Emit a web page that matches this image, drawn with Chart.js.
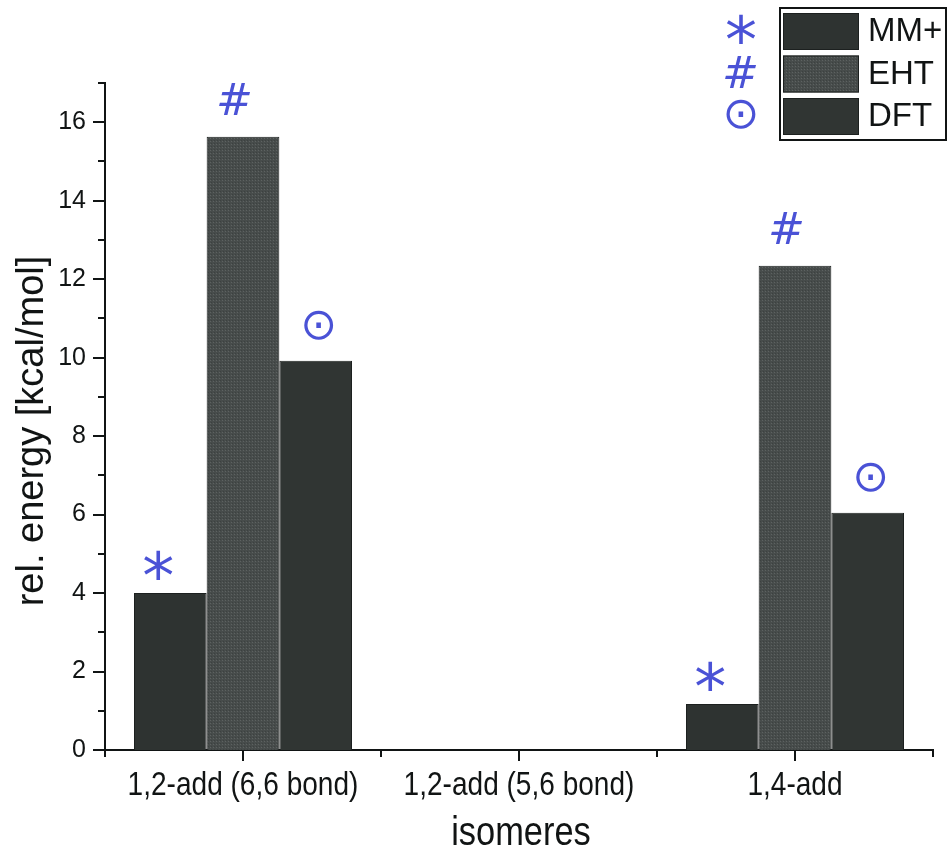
<!DOCTYPE html>
<html>
<head>
<meta charset="utf-8">
<title>rel. energy of isomeres</title>
<script src="https://cdn.jsdelivr.net/npm/chart.js@4.4.1/dist/chart.umd.min.js"></script>
<style>
  html, body { margin: 0; padding: 0; background: #ffffff; }
  #wrap { width: 951px; height: 854px; }
</style>
</head>
<body>
<div id="wrap"><canvas id="c" width="951" height="854"></canvas></div>
<script>
// Relative energies [kcal/mol] of the three addition isomeres
const categories = ['1,2-add (6,6 bond)', '1,2-add (5,6 bond)', '1,4-add'];
const seriesNames = ['MM+', 'EHT', 'DFT'];
const mmPlus = [4.0, 0, 1.17];
const eht = [15.63, 0, 12.34];
const dft = [9.92, 0, 6.05];
const yTickLabels = [0, 2, 4, 6, 8, 10, 12, 14, 16];
// pen marks written next to each method
const penMarks = ['*', '#', '⊙'];

const SANS = "'Liberation Sans', Arial, sans-serif";
const INK = '#111414';
const PEN = '#4a52d6';

// fine dotted fill for the EHT bars
function dottedFill() {
  const p = document.createElement('canvas');
  p.width = 3; p.height = 3;
  const g = p.getContext('2d');
  g.fillStyle = '#474c4b';
  g.fillRect(0, 0, 3, 3);
  g.fillStyle = '#5d6261';
  g.fillRect(0, 0, 1, 1);
  g.fillStyle = '#3c4140';
  g.fillRect(1, 2, 1, 1);
  return g.createPattern(p, 'repeat');
}

const fills = ['#2e3331', dottedFill(), '#303533'];

// condensed text, drawn with a horizontal squeeze around its centre
function squeezedText(ctx, text, cx, cy, size, squeeze) {
  ctx.save();
  ctx.translate(cx, cy);
  ctx.scale(squeeze, 1);
  ctx.font = size + 'px ' + SANS;
  ctx.textAlign = 'center';
  ctx.textBaseline = 'middle';
  ctx.fillText(text, 0, 0);
  ctx.restore();
}

// outward tick marks, category labels and axis titles
const axisDecor = {
  id: 'axisDecor',
  afterDraw(chart) {
    const { ctx, scales: { x, y } } = chart;
    ctx.save();
    ctx.strokeStyle = INK;
    ctx.lineWidth = 2;
    ctx.lineCap = 'butt';
    for (let v = y.min; v <= y.max; v++) {
      const py = Math.round(y.getPixelForValue(v));
      const len = v % 2 === 0 ? 12 : 7;
      ctx.beginPath();
      ctx.moveTo(x.left, py);
      ctx.lineTo(x.left - len, py);
      ctx.stroke();
    }
    const labels = x.getLabels();
    ctx.fillStyle = INK;
    labels.forEach((lab, i) => {
      const px = Math.round(x.getPixelForValue(i));
      ctx.beginPath();
      ctx.moveTo(px, y.bottom);
      ctx.lineTo(px, y.bottom + 11);
      ctx.stroke();
      squeezedText(ctx, lab, px, y.bottom + 36, 33, 0.85);
    });
    for (let i = 0; i <= labels.length; i++) {
      const px = Math.round(x.getPixelForValue(i - 0.5));
      ctx.beginPath();
      ctx.moveTo(px, y.bottom);
      ctx.lineTo(px, y.bottom + 7);
      ctx.stroke();
    }
    // axis titles
    squeezedText(ctx, x.options.title.text, (x.left + x.right) / 2 + 2, 834, 40, 0.86);
    ctx.save();
    ctx.translate(33, 431);
    ctx.rotate(-Math.PI / 2);
    ctx.font = '38px ' + SANS;
    ctx.textAlign = 'center';
    ctx.textBaseline = 'middle';
    ctx.fillText(y.options.title.text, 0, 0);
    ctx.restore();
    ctx.restore();
  }
};

function drawCentered(ctx, text, cx, cy) {
  const m = ctx.measureText(text);
  const w = m.actualBoundingBoxRight + m.actualBoundingBoxLeft;
  const h = m.actualBoundingBoxAscent + m.actualBoundingBoxDescent;
  ctx.fillText(text, cx - w / 2 + m.actualBoundingBoxLeft, cy - h / 2 + m.actualBoundingBoxAscent);
}

function setMarkFont(ctx, i) {
  if (i === 0) ctx.font = "64px 'DejaVu Sans', sans-serif";
  else if (i === 1) ctx.font = "italic 44px 'DejaVu Sans', sans-serif";
  else ctx.font = "44px 'DejaVu Sans', sans-serif";
}

// boxed legend with the pen marks written to its left
const boxLegend = {
  id: 'boxLegend',
  afterDraw(chart) {
    const { ctx } = chart;
    const bx = 780, by = 8, bw = 166, bh = 132;
    ctx.save();
    ctx.fillStyle = '#ffffff';
    ctx.fillRect(bx, by, bw, bh);
    chart.data.datasets.forEach((ds, i) => {
      const top = 13 + i * 42.5;
      ctx.fillStyle = ds.backgroundColor;
      ctx.fillRect(bx + 3, top, 76, 37);
      ctx.strokeStyle = '#1c201f';
      ctx.lineWidth = 1;
      ctx.strokeRect(bx + 3.5, top + 0.5, 75, 36);
      ctx.fillStyle = INK;
      ctx.font = "33px " + SANS;
      ctx.textAlign = 'left';
      ctx.textBaseline = 'middle';
      ctx.fillText(ds.label, bx + 88, top + 19);
      ctx.fillStyle = PEN;
      ctx.textAlign = 'left';
      ctx.textBaseline = 'alphabetic';
      setMarkFont(ctx, i);
      drawCentered(ctx, penMarks[i], 741, top + 16);
    });
    ctx.strokeStyle = INK;
    ctx.lineWidth = 2;
    ctx.strokeRect(bx, by, bw, bh);
    ctx.restore();
  }
};

// pen marks above every non-zero bar
const barMarks = {
  id: 'barMarks',
  afterDatasetsDraw(chart) {
    const { ctx } = chart;
    const shift = [[-12, -28], [-8, -38], [3, -36]];
    ctx.save();
    ctx.fillStyle = PEN;
    chart.data.datasets.forEach((ds, i) => {
      const meta = chart.getDatasetMeta(i);
      meta.data.forEach((bar, j) => {
        if (!ds.data[j]) return;
        setMarkFont(ctx, i);
        drawCentered(ctx, penMarks[i], bar.x + shift[i][0], bar.y + shift[i][1]);
      });
    });
    ctx.restore();
  }
};

new Chart(document.getElementById('c'), {
  type: 'bar',
  data: {
    labels: categories,
    datasets: [mmPlus, eht, dft].map((values, i) => ({
      label: seriesNames[i],
      data: values,
      backgroundColor: fills[i],
      borderColor: '#1c201f',
      borderWidth: 1,
      categoryPercentage: 0.79,
      barPercentage: 1.0
    }))
  },
  options: {
    responsive: false,
    devicePixelRatio: 1,
    animation: false,
    layout: { padding: { top: 83, right: 18, bottom: 0, left: 0 } },
    plugins: { legend: { display: false }, tooltip: { enabled: false } },
    scales: {
      x: {
        type: 'category',
        offset: true,
        grid: { display: false },
        border: { display: true, color: INK, width: 2 },
        ticks: { display: false },
        title: { display: false, text: 'isomeres' },
        afterFit(scale) { scale.height = 104; }
      },
      y: {
        min: 0,
        max: 17,
        grid: { display: false, drawTicks: true, tickLength: 12 },
        border: { display: true, color: INK, width: 2 },
        ticks: {
          stepSize: 1,
          autoSkip: false,
          color: INK,
          font: { family: SANS, size: 25 },
          padding: 7,
          callback: (v) => (yTickLabels.includes(v) ? String(v) : '')
        },
        title: { display: false, text: 'rel. energy [kcal/mol]' },
        afterFit(scale) { scale.width = 105; }
      }
    }
  },
  plugins: [axisDecor, barMarks, boxLegend]
});
</script>
</body>
</html>
